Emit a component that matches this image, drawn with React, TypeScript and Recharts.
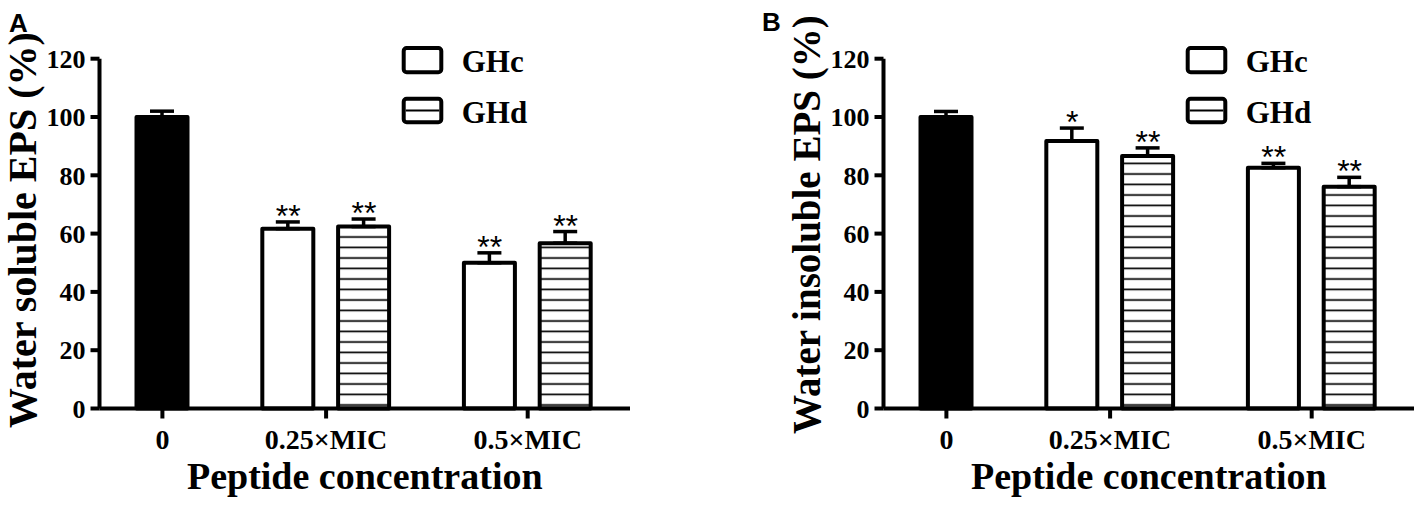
import React from 'react';
import { ComposedChart, Bar, Cell, XAxis, YAxis, ErrorBar, Scatter, Legend } from 'recharts';

// ---------- data ----------
const categories = ['0', '0.25×MIC', '0.5×MIC'];
const seriesNames = ['GHc', 'GHd'];
const yTicks = [0, 20, 40, 60, 80, 100, 120];

// Panel A: water soluble EPS (%)
const controlA = 100;
const controlErrA = 2.0;
const ghcA = [61.7, 50.0];
const ghcErrA = [2.3, 3.4];
const ghcSigA = ['**', '**'];
const ghdA = [62.4, 56.7];
const ghdErrA = [2.6, 4.0];
const ghdSigA = ['**', '**'];

// Panel B: water insoluble EPS (%)
const controlB = 100;
const controlErrB = 1.9;
const ghcB = [91.8, 82.6];
const ghcErrB = [4.4, 1.5];
const ghcSigB = ['*', '**'];
const ghdB = [86.6, 76.1];
const ghdErrB = [2.8, 3.2];
const ghdSigB = ['**', '**'];

// ---------- layout ----------
const GROUP_GAP = 0.66; // extra space between groups, in bar pitches
const W = 634;
const H = 508;
const SERIF = '"Liberation Serif", "Times New Roman", serif';
const SANS = '"Liberation Sans", Arial, sans-serif';

type Row = { pos: number; value: number; err: number[]; top: number; sig: string; kind: string; group: number };

function buildRows(control: number, controlErr: number, ghc: number[], ghcErr: number[], ghcSig: string[], ghd: number[], ghdErr: number[], ghdSig: string[]): Row[] {
  const rows: Row[] = [];
  rows.push({ pos: 0, value: control, err: [0, controlErr], top: control + controlErr, sig: '', kind: 'control', group: 0 });
  let slot = 1;
  for (let g = 0; g < ghc.length; g++) {
    const base = slot + (g + 1) * GROUP_GAP;
    rows.push({ pos: base, value: ghc[g], err: [0, ghcErr[g]], top: ghc[g] + ghcErr[g], sig: ghcSig[g], kind: seriesNames[0], group: g + 1 });
    rows.push({ pos: base + 1, value: ghd[g], err: [0, ghdErr[g]], top: ghd[g] + ghdErr[g], sig: ghdSig[g], kind: seriesNames[1], group: g + 1 });
    slot += 2;
  }
  return rows;
}

function groupCenters(rows: Row[]): number[] {
  return categories.map((_, i) => {
    const ps = rows.filter((r) => r.group === i).map((r) => r.pos);
    return ps.reduce((a, b) => a + b, 0) / ps.length;
  });
}

const StarShape = (props: any) => {
  const { cx, cy, payload } = props;
  if (!payload || !payload.sig) return <g />;
  return (
    <text x={cx} y={cy + 5} textAnchor="middle" fontFamily={SANS} fontSize={32} fill="#000" style={{ fontSize: 32 }}>
      {payload.sig}
    </text>
  );
};

const LegendBox = () => (
  <svg width={150} height={90} style={{ display: 'block' }}>
    <rect x={3.7} y={4} width={37.6} height={24.3} rx={3} fill="#fff" stroke="#000" strokeWidth={4} />
    <text x={61.7} y={28} fontFamily={SERIF} fontWeight={700} fontSize={31} fill="#000" style={{ fontSize: 31 }}>{seriesNames[0]}</text>
    <rect x={3.7} y={54.7} width={37.6} height={23.6} rx={3} fill="#fff" stroke="#000" strokeWidth={4} />
    <line x1={5.7} x2={39.3} y1={66.5} y2={66.5} stroke="#000" strokeWidth={1.8} />
    <text x={61.7} y={79} fontFamily={SERIF} fontWeight={700} fontSize={31} fill="#000" style={{ fontSize: 31 }}>{seriesNames[1]}</text>
  </svg>
);

type PanelProps = { rows: Row[]; yLabel: string; id: string; yLabelSize: number; yLabelShift: number };

const XTick = (props: any) => {
  const { x, y, payload, fmt } = props;
  return (
    <text x={x} y={y} dy="0.71em" textAnchor="middle" fontFamily={SERIF} fontWeight={700} fontSize={28} fill="#000" style={{ fontSize: 28 }}>
      {fmt(payload.value)}
    </text>
  );
};

const YTick = (props: any) => {
  const { x, y, payload } = props;
  return (
    <text x={x} y={y} dy="0.355em" textAnchor="end" fontFamily={SERIF} fontWeight={700} fontSize={26} fill="#000" style={{ fontSize: 26 }}>
      {payload.value}
    </text>
  );
};

const Panel = ({ rows, yLabel, id, yLabelSize, yLabelShift }: PanelProps) => {
  const centers = groupCenters(rows);
  const fmt = (v: number) => {
    let best = 0;
    centers.forEach((c, i) => {
      if (Math.abs(c - v) < Math.abs(centers[best] - v)) best = i;
    });
    return categories[best];
  };
  const fillFor = (kind: string) => (kind === 'control' ? '#000' : kind === seriesNames[0] ? '#fff' : `url(#hatch${id})`);
  return (
    <ComposedChart width={W} height={H} data={rows} margin={{ top: 58.7, right: 4, bottom: 39.5, left: 0 }}>
      <defs>
        <pattern id={`hatch${id}`} patternUnits="userSpaceOnUse" width={20} height={10.5}>
          <rect x={0} y={0} width={20} height={10.5} fill="#fff" />
          <line x1={0} x2={20} y1={6} y2={6} stroke="#000" strokeWidth={1.7} />
        </pattern>
      </defs>
      <XAxis
        type="number"
        dataKey="pos"
        domain={[-0.83, 6.17]}
        ticks={centers}
        interval={0}
        height={60}
        axisLine={{ stroke: '#000', strokeWidth: 4 }}
        tickLine={{ stroke: '#000', strokeWidth: 4 }}
        tickSize={10}
        tickMargin={11}
        tick={<XTick fmt={fmt} />}
        label={{
          content: (p: any) => {
            const vb = p.viewBox;
            return (
              <text x={vb.x + vb.width / 2} y={vb.y + 80} textAnchor="middle" fontFamily={SERIF} fontWeight={700} fontSize={38} fill="#000" style={{ fontSize: 38 }}>
                Peptide concentration
              </text>
            );
          },
        }}
      />
      <YAxis
        type="number"
        domain={[0, 120]}
        ticks={yTicks}
        interval={0}
        width={99.5}
        axisLine={{ stroke: '#000', strokeWidth: 4 }}
        tickLine={{ stroke: '#000', strokeWidth: 4 }}
        tickSize={9}
        tickMargin={5}
        tick={<YTick />}
        label={{
          content: (p: any) => {
            const vb = p.viewBox;
            const cx = vb.x + 36;
            const cy = vb.y + vb.height / 2 + yLabelShift;
            return (
              <text x={cx} y={cy} transform={`rotate(-90 ${cx} ${cy})`} textAnchor="middle" fontFamily={SERIF} fontWeight={700} fontSize={yLabelSize} fill="#000" style={{ fontSize: yLabelSize }}>
                {yLabel}
              </text>
            );
          },
        }}
      />
      <Legend layout="vertical" align="center" verticalAlign="middle" wrapperStyle={{ left: 400, top: 44, width: 150, height: 90 }} content={() => <LegendBox />} />
      <Bar dataKey="value" barSize={51} stroke="#000" strokeWidth={4} strokeLinejoin="round" isAnimationActive={false}>
        {rows.map((r, i) => (
          <Cell key={i} fill={fillFor(r.kind)} />
        ))}
        <ErrorBar dataKey="err" direction="y" width={12} stroke="#000" strokeWidth={3.5} />
      </Bar>
      <Scatter dataKey="top" shape={StarShape} isAnimationActive={false} />
    </ComposedChart>
  );
};

const rowsA = buildRows(controlA, controlErrA, ghcA, ghcErrA, ghcSigA, ghdA, ghdErrA, ghdSigA);
const rowsB = buildRows(controlB, controlErrB, ghcB, ghcErrB, ghcSigB, ghdB, ghdErrB, ghdSigB);

export default function App() {
  return (
    <div style={{ position: 'fixed', left: 0, top: 0, width: 1418, height: 508, background: '#fff', overflow: 'hidden' }}>
      <div style={{ position: 'absolute', left: 0, top: 0 }}>
        <Panel rows={rowsA} yLabel="Water soluble EPS (%)" id="A" yLabelSize={40} yLabelShift={-3.5} />
      </div>
      <div style={{ position: 'absolute', left: 784, top: 0 }}>
        <Panel rows={rowsB} yLabel="Water insoluble EPS (%)" id="B" yLabelSize={39} yLabelShift={-9} />
      </div>
      <svg width={1418} height={40} style={{ position: 'absolute', left: 0, top: 0, pointerEvents: 'none' }}>
        <text x={9} y={31.5} fontFamily={SANS} fontWeight={700} fontSize={26} fill="#000">A</text>
        <text x={762} y={30.5} fontFamily={SANS} fontWeight={700} fontSize={26} fill="#000">B</text>
      </svg>
    </div>
  );
}
